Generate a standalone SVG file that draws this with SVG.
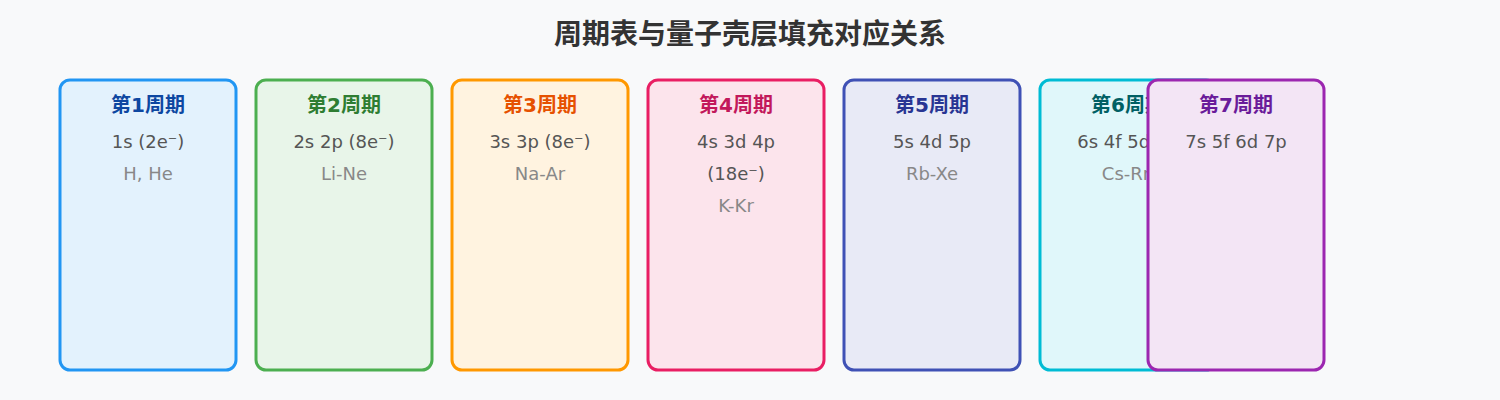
<svg xmlns="http://www.w3.org/2000/svg" width="1500" height="400" viewBox="0 0 1500 400">
<style>
text{font-family:"DejaVu Sans","Noto Sans CJK SC",sans-serif;text-anchor:middle}
.title{font-size:28px;font-weight:bold;fill:#333}
.box{stroke-width:3}
.hd{font-size:20px;font-weight:bold}
.ln{font-size:18px;fill:#555}
.el{font-size:18px;fill:#888}
</style>
<rect width="1500" height="400" fill="#f8f9fa"/>
<text class="title" x="750" y="44">周期表与量子壳层填充对应关系</text>
<g id="connectors"/>
<g id="p1">
<rect class="box" x="60" y="80" width="176" height="290" rx="10" fill="#E3F2FD" stroke="#2196F3"/>
<text class="hd" x="148" y="112" fill="#0D47A1">第1周期</text>
<text class="ln" x="148" y="148">1s (2e⁻)</text>
<text class="el" x="148" y="180">H, He</text>
</g>
<g id="p2">
<rect class="box" x="256" y="80" width="176" height="290" rx="10" fill="#E8F5E9" stroke="#4CAF50"/>
<text class="hd" x="344" y="112" fill="#2E7D32">第2周期</text>
<text class="ln" x="344" y="148">2s 2p (8e⁻)</text>
<text class="el" x="344" y="180">Li-Ne</text>
</g>
<g id="p3">
<rect class="box" x="452" y="80" width="176" height="290" rx="10" fill="#FFF3E0" stroke="#FF9800"/>
<text class="hd" x="540" y="112" fill="#E65100">第3周期</text>
<text class="ln" x="540" y="148">3s 3p (8e⁻)</text>
<text class="el" x="540" y="180">Na-Ar</text>
</g>
<g id="p4">
<rect class="box" x="648" y="80" width="176" height="290" rx="10" fill="#FCE4EC" stroke="#E91E63"/>
<text class="hd" x="736" y="112" fill="#C2185B">第4周期</text>
<text class="ln" x="736" y="148">4s 3d 4p</text>
<text class="ln" x="736" y="180">(18e⁻)</text>
<text class="el" x="736" y="212">K-Kr</text>
</g>
<g id="p5">
<rect class="box" x="844" y="80" width="176" height="290" rx="10" fill="#E8EAF6" stroke="#3F51B5"/>
<text class="hd" x="932" y="112" fill="#283593">第5周期</text>
<text class="ln" x="932" y="148">5s 4d 5p</text>
<text class="el" x="932" y="180">Rb-Xe</text>
</g>
<g id="p6">
<rect class="box" x="1040" y="80" width="176" height="290" rx="10" fill="#E0F7FA" stroke="#00BCD4"/>
<text class="hd" x="1128" y="112" fill="#006064">第6周期</text>
<text class="ln" x="1128" y="148">6s 4f 5d 6p</text>
<text class="el" x="1128" y="180">Cs-Rn</text>
</g>
<g id="p7">
<rect class="box" x="1148" y="80" width="176" height="290" rx="10" fill="#F3E5F5" stroke="#9C27B0"/>
<text class="hd" x="1236" y="112" fill="#6A1B9A">第7周期</text>
<text class="ln" x="1236" y="148">7s 5f 6d 7p</text>
</g>
</svg>
